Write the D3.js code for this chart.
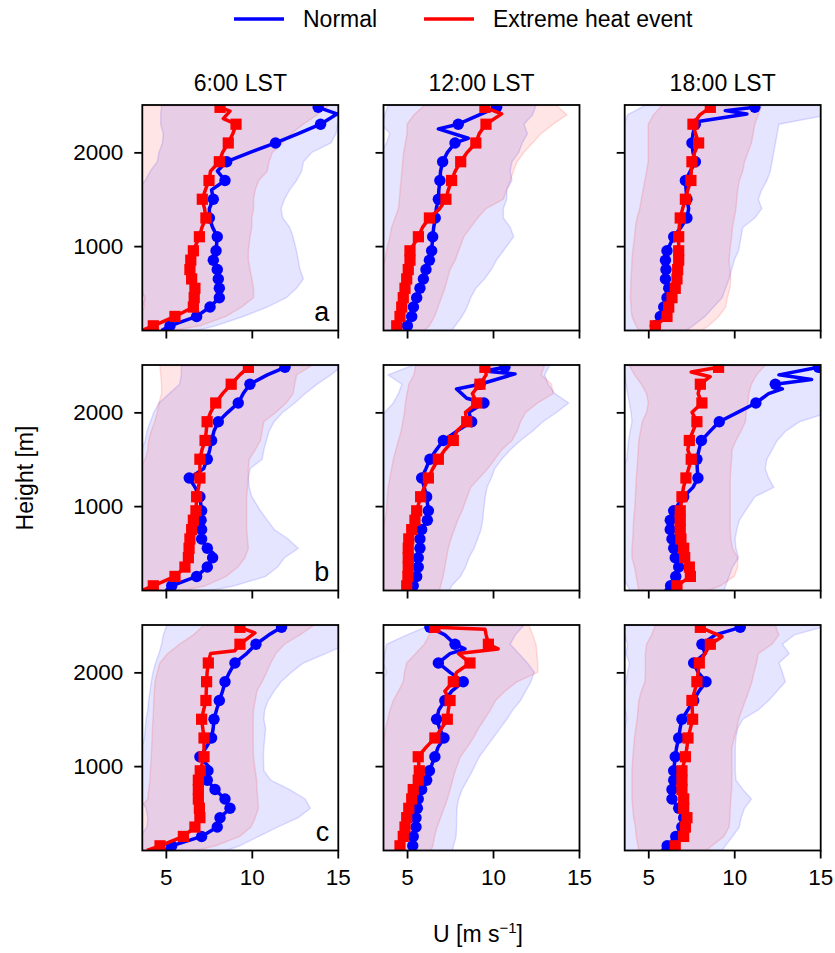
<!DOCTYPE html>
<html><head><meta charset="utf-8">
<script src="https://cdn.jsdelivr.net/npm/d3@7"></script>
<style>
body{margin:0;background:#fff}
svg{display:block}
text{font-family:"Liberation Sans",Arial,Helvetica,sans-serif;fill:#000}
</style>
</head><body>
<svg id="chart" width="835" height="953"></svg>
<script>
// ---------------- DATA ----------------
const COLUMN_TITLES = ["6:00 LST", "12:00 LST", "18:00 LST"];
const ROW_LETTERS = ["a", "b", "c"];
const SERIES_NAMES = ["Normal", "Extreme heat event"];
const X_TICKS = [5, 10, 15];
const Y_TICKS = [1000, 2000];
// heights (m) of the percentile-band profiles
const HEIGHTS = [100,150,250,350,450,550,650,750,850,950,1100,1200,1300,1400,1500,1600,1700,1800,1900,2000,2100,2200,2300,2400,2500];
// heights at which markers are drawn on the mean profiles
const MARK_H = [150,250,350,450,550,650,750,850,950,1100,1300,1500,1700,1900,2100,2300,2480];

// ---- 6:00 LST, row a ----
const normMean_06a = [[100,4.75],[150,5.24],[250,6.79],[350,7.57],[450,8.11],[550,8.11],[650,8.05],[750,7.99],[850,7.76],[950,7.92],[1100,7.99],[1200,7.72],[1300,7.53],[1400,7.53],[1500,7.76],[1600,7.66],[1700,8.44],[1800,8.0],[1900,8.54],[2000,9.9],[2100,11.38],[2200,12.7],[2300,14.0],[2410,14.95],[2480,13.86]];
const hotMean_06a = [[100,3.6],[150,4.27],[250,5.53],[350,6.6],[450,6.65],[550,6.69],[650,6.5],[750,6.4],[850,6.45],[950,6.6],[1100,6.95],[1200,7.1],[1300,7.33],[1400,7.25],[1500,7.12],[1600,7.3],[1700,7.51],[1800,7.6],[1900,8.11],[2000,8.3],[2100,8.63],[2200,8.9],[2300,9.08],[2360,8.34],[2440,8.73],[2480,8.15]];
const normLo_06a = [3.3,3.3,3.3,3.6,3.8,3.5,3.3,3.3,3.3,3.3,3.3,3.3,3.3,3.3,3.3,3.4,3.8,4.1,4.5,4.6,4.8,4.85,4.7,4.7,4.75];
const normHi_06a = [6.8,7.9,9.5,10.9,12.0,12.6,13.0,12.8,12.7,12.6,12.4,12.2,11.8,11.7,11.9,12.2,12.6,12.9,13.0,13.5,14.6,14.9,15.0,15.2,15.5];
const hotLo_06a = [3.4,3.4,3.4,3.75,3.75,3.4,3.4,3.4,3.4,3.4,3.4,3.4,3.4,3.4,3.4,3.4,3.4,3.4,3.4,3.4,3.4,3.4,3.4,3.4,3.4];
const hotHi_06a = [5.4,7.0,8.5,9.4,10.1,10.1,10.0,9.9,9.8,9.8,9.9,10.0,10.0,10.1,10.1,10.2,10.4,10.9,11.0,11.2,11.8,12.3,13.0,13.8,14.5];

// ---- 12:00 LST, row a ----
const normMean_12a = [[100,4.95],[150,5.02],[250,5.27],[350,5.37],[450,5.56],[550,5.75],[650,5.95],[750,6.1],[850,6.3],[950,6.43],[1100,6.49],[1200,6.55],[1300,6.64],[1400,6.7],[1500,6.82],[1600,6.85],[1700,6.91],[1800,6.95],[1900,7.07],[2000,7.35],[2100,7.79],[2150,8.56],[2250,6.82],[2300,7.98],[2400,9.2],[2480,10.21]];
const hotMean_12a = [[100,4.3],[150,4.4],[250,4.59],[350,4.69],[450,4.78],[550,4.88],[650,4.98],[750,5.07],[850,5.17],[950,5.17],[1100,5.66],[1200,5.9],[1300,6.3],[1400,6.9],[1500,7.26],[1600,7.4],[1700,7.59],[1800,7.8],[1900,8.12],[2000,8.5],[2100,9.0],[2200,9.2],[2300,9.59],[2410,10.5],[2480,9.53]];
const normLo_12a = [3.3,3.3,3.3,3.3,3.3,3.3,3.3,3.3,3.3,3.3,3.3,3.3,3.3,3.3,3.3,3.3,3.3,3.3,3.4,3.5,3.8,4.0,3.5,3.7,3.9];
const normHi_12a = [7.6,7.8,8.2,8.5,8.7,9.0,9.5,9.9,10.2,10.6,11.2,11.0,10.6,10.6,10.8,10.8,11.1,11.0,11.1,11.5,11.7,12.0,11.8,12.3,12.5];
const hotLo_12a = [3.5,3.5,3.5,3.5,3.5,3.5,3.5,3.5,3.7,3.8,4.0,4.1,4.3,4.5,4.55,4.6,4.65,4.7,4.75,4.8,4.9,5.0,5.0,5.4,6.0];
const hotHi_12a = [6.0,6.3,6.6,6.8,7.0,7.2,7.35,7.5,7.8,8.0,8.3,8.7,9.1,9.6,10.6,10.8,11.0,11.2,11.4,11.8,12.3,12.8,13.5,14.3,13.7];

// ---- 18:00 LST, row a ----
const normMean_18a = [[100,5.3],[150,5.41],[250,5.7],[350,5.9],[450,6.09],[550,6.19],[650,6.0],[750,6.03],[850,6.0],[950,6.09],[1100,6.48],[1200,6.9],[1300,7.25],[1400,7.35],[1500,7.25],[1600,7.2],[1700,7.16],[1800,7.45],[1900,7.74],[2000,7.6],[2100,7.54],[2200,7.6],[2300,7.74],[2330,7.9],[2410,10.74],[2445,9.48],[2480,11.2]];
const hotMean_18a = [[100,5.2],[150,5.41],[250,6.09],[350,6.19],[450,6.38],[550,6.57],[650,6.67],[750,6.71],[850,6.77],[950,6.77],[1100,6.77],[1200,6.8],[1300,6.86],[1400,7.0],[1500,7.16],[1600,7.3],[1700,7.48],[1800,7.5],[1900,7.54],[2000,7.7],[2100,7.93],[2200,7.75],[2300,7.6],[2400,8.0],[2480,8.61]];
const normLo_18a = [3.5,3.5,3.5,3.5,3.5,3.5,3.5,3.5,3.5,3.5,3.5,3.5,3.5,3.5,3.5,3.5,3.5,3.5,3.5,3.5,3.5,3.5,3.6,3.8,4.8];
const normHi_18a = [7.2,7.6,8.3,8.8,9.3,9.5,9.7,9.85,10.0,10.25,10.4,10.5,11.2,11.6,11.4,11.6,11.9,12.1,12.2,12.3,12.4,12.5,12.6,15.5,15.5];
const hotLo_18a = [4.45,4.3,4.05,4.0,3.96,3.98,4.0,4.03,4.05,4.1,4.2,4.25,4.35,4.5,4.6,4.7,4.8,4.9,5.0,5.0,5.0,5.0,5.0,5.3,5.8];
const hotHi_18a = [8.1,8.5,9.1,9.5,9.6,9.75,9.8,9.75,9.7,9.75,9.85,9.9,10.0,10.1,10.15,10.2,10.3,10.5,10.6,10.8,11.0,11.1,11.2,11.4,11.6];

// ---- 6:00 LST, row b ----
const normMean_06b = [[100,5.0],[150,5.34],[250,6.79],[350,7.41],[450,7.72],[500,7.75],[550,7.41],[650,7.08],[750,7.08],[850,7.05],[950,7.08],[1100,6.98],[1200,6.7],[1300,6.36],[1350,6.8],[1400,7.2],[1500,7.41],[1600,7.55],[1700,7.66],[1800,7.8],[1900,8.05],[2000,8.6],[2100,9.21],[2200,9.5],[2300,9.89],[2400,10.9],[2480,11.93],[2510,12.2]];
const hotMean_06b = [[100,3.6],[150,4.27],[250,5.53],[350,6.11],[450,6.31],[550,6.35],[650,6.4],[750,6.5],[850,6.6],[950,6.75],[1100,6.79],[1200,6.9],[1300,6.98],[1400,6.98],[1500,6.98],[1600,7.1],[1700,7.28],[1800,7.35],[1900,7.4],[2000,7.6],[2100,7.9],[2200,8.3],[2300,8.8],[2400,9.3],[2480,9.8]];
const normLo_06b = [3.4,3.4,3.4,3.4,3.4,3.4,3.4,3.4,3.4,3.4,3.4,3.4,3.4,3.4,3.4,3.6,3.8,3.9,4.1,4.3,4.6,5.2,5.8,5.9,5.9];
const normHi_06b = [7.6,9.0,10.8,11.5,11.9,12.7,12.1,11.3,10.9,10.5,10.0,9.85,9.8,9.9,10.6,10.7,10.85,11.0,11.3,11.8,12.5,13.1,13.8,14.6,15.3];
const hotLo_06b = [3.45,3.45,3.45,3.45,3.45,3.45,3.45,3.45,3.45,3.45,3.45,3.45,3.45,3.45,3.8,3.95,4.0,4.15,4.35,4.5,4.6,4.75,4.75,4.7,4.65];
const hotHi_06b = [6.0,7.3,8.5,9.2,9.6,9.8,9.75,9.7,9.7,9.7,9.7,9.75,9.8,9.8,9.85,10.2,10.5,10.6,10.7,11.4,12.0,12.4,12.5,12.6,13.5];

// ---- 12:00 LST, row b ----
const normMean_12b = [[100,5.3],[150,5.36],[250,5.56],[350,5.65],[450,5.65],[550,5.75],[650,5.75],[750,5.85],[850,6.18],[950,6.24],[1100,6.14],[1200,6.0],[1300,5.85],[1400,6.1],[1500,6.33],[1600,6.7],[1700,7.11],[1800,7.9],[1900,8.76],[2000,8.6],[2100,9.47],[2150,8.47],[2250,7.88],[2300,9.24],[2410,11.28],[2440,9.5],[2480,10.69]];
const hotMean_12b = [[100,4.9],[150,4.98],[250,5.05],[350,5.07],[450,5.07],[550,5.07],[650,5.1],[750,5.27],[850,5.46],[950,5.56],[1100,5.79],[1200,6.0],[1300,6.24],[1400,6.5],[1500,6.82],[1600,7.2],[1700,7.69],[1800,7.9],[1900,8.47],[2000,8.4],[2100,9.05],[2200,8.8],[2300,9.24],[2400,9.6],[2480,9.53]];
const normLo_12b = [3.4,3.4,3.4,3.4,3.4,3.4,3.4,3.4,3.4,3.4,3.4,3.4,3.4,3.4,3.4,3.4,3.4,3.4,3.4,3.7,4.2,4.5,4.7,3.9,5.3];
const normHi_12b = [7.45,7.6,8.1,8.4,8.6,8.9,9.1,9.3,9.4,9.45,9.55,9.65,9.9,10.1,10.5,11.0,11.6,12.3,12.9,13.7,14.4,13.6,13.2,13.0,13.3];
const hotLo_12b = [3.45,3.45,3.45,3.45,3.45,3.45,3.45,3.6,3.7,3.8,3.85,3.9,4.0,4.1,4.2,4.35,4.5,4.65,4.75,4.85,4.9,5.0,5.1,5.4,5.5];
const hotHi_12b = [6.9,6.95,7.1,7.2,7.3,7.4,7.55,7.75,7.95,8.2,8.5,8.7,9.2,9.7,10.1,10.5,11.1,11.4,11.6,11.9,12.6,13.5,13.4,12.8,13.0];

// ---- 18:00 LST, row b ----
const normMean_18b = [[100,6.0],[150,6.3],[250,6.6],[350,6.77],[450,6.57],[550,6.48],[650,6.38],[750,6.28],[850,6.28],[950,6.48],[1100,7.06],[1200,7.6],[1300,7.89],[1400,7.85],[1500,7.83],[1600,7.95],[1700,8.09],[1800,8.6],[1900,9.13],[2000,10.2],[2100,11.26],[2200,12.0],[2250,12.8],[2280,12.3],[2300,12.39],[2350,14.5],[2400,12.6],[2480,14.9]];
const hotMean_18b = [[100,6.5],[150,6.67],[250,7.45],[350,7.39],[450,7.12],[550,7.06],[650,6.9],[750,6.86],[850,6.86],[950,6.86],[1100,6.96],[1200,7.05],[1300,7.19],[1400,7.35],[1500,7.5],[1600,7.3],[1700,7.39],[1800,7.6],[1900,7.83],[2000,7.55],[2100,8.12],[2200,7.9],[2300,8.03],[2380,8.6],[2430,7.5],[2480,9.09]];
const normLo_18b = [3.95,3.8,3.5,3.5,3.5,3.5,3.5,3.5,3.5,3.5,3.5,3.5,3.5,3.5,3.75,3.8,3.85,3.95,4.05,4.0,3.9,3.8,3.7,3.6,3.6];
const normHi_18b = [9.4,9.5,9.7,9.9,10.25,10.1,10.05,10.15,10.3,10.65,11.2,12.3,12.0,11.8,11.9,12.2,12.5,13.0,13.8,15.5,15.5,15.5,15.5,15.5,15.5];
const hotLo_18b = [4.45,4.4,4.3,4.2,4.05,4.05,4.1,4.12,4.15,4.2,4.25,4.28,4.3,4.35,4.38,4.42,4.45,4.55,4.65,4.9,5.0,4.9,4.6,4.2,3.9];
const hotHi_18b = [8.5,9.2,10.0,10.2,10.2,9.9,9.8,9.77,9.77,9.77,9.77,9.77,9.77,9.8,9.85,9.87,10.1,10.4,10.65,10.7,10.8,10.85,11.0,11.3,11.8];

// ---- 6:00 LST, row c ----
const normMean_06c = [[100,4.9],[150,5.34],[250,7.08],[350,7.99],[450,8.15],[550,8.73],[650,8.44],[750,7.86],[850,7.41],[950,7.45],[1000,7.47],[1100,6.98],[1200,7.35],[1300,7.66],[1400,7.75],[1500,7.8],[1600,7.95],[1700,8.11],[1800,8.3],[1900,8.44],[2000,8.7],[2100,9.02],[2200,9.7],[2300,10.24],[2400,11.0],[2480,11.73]];
const hotMean_06c = [[100,3.9],[150,4.66],[250,6.02],[350,6.69],[450,6.98],[550,6.95],[650,6.89],[750,6.89],[850,6.89],[950,7.0],[1100,7.22],[1200,7.22],[1300,7.22],[1400,7.15],[1500,7.08],[1600,7.2],[1700,7.33],[1800,7.35],[1900,7.37],[2000,7.4],[2100,7.47],[2200,7.6],[2230,9.0],[2300,9.31],[2420,10.18],[2480,9.31]];
const normLo_06c = [3.4,3.4,3.5,3.9,3.95,3.85,3.5,3.4,3.4,3.4,3.45,3.6,3.75,3.8,3.85,3.95,4.0,4.08,4.15,4.25,4.4,4.6,4.75,4.85,5.05];
const normHi_06c = [8.5,9.3,10.4,11.5,12.7,13.4,13.1,12.2,11.1,10.7,10.67,10.7,10.75,10.8,10.7,10.75,10.95,11.3,11.7,12.3,13.0,14.3,15.5,15.5,15.5];
const hotLo_06c = [3.45,3.45,3.45,3.45,3.45,3.45,3.95,4.0,4.08,4.1,4.15,4.17,4.2,4.22,4.25,4.28,4.3,4.33,4.37,4.5,4.65,5.1,5.8,6.6,7.2];
const hotHi_06c = [6.8,7.9,9.3,9.95,10.2,10.38,10.35,10.3,10.28,10.2,10.1,10.08,10.08,10.08,10.08,10.1,10.2,10.3,10.6,10.86,11.1,11.4,11.9,12.8,13.6];

// ---- 12:00 LST, row c ----
const normMean_12c = [[100,5.3],[150,5.33],[250,5.36],[350,5.52],[450,5.52],[550,5.6],[650,5.65],[750,5.85],[850,6.14],[950,6.3],[1100,6.62],[1200,6.8],[1300,7.15],[1400,6.9],[1500,6.72],[1600,6.85],[1700,7.2],[1800,7.6],[1900,8.27],[2000,7.5],[2100,6.82],[2200,7.5],[2250,8.37],[2300,7.79],[2400,7.2],[2480,6.33]];
const hotMean_12c = [[100,4.5],[150,4.59],[250,4.78],[350,4.88],[450,4.98],[550,5.1],[650,5.27],[750,5.36],[850,5.65],[950,5.71],[1100,5.65],[1200,6.1],[1300,6.62],[1400,7.0],[1500,7.34],[1600,7.4],[1700,7.5],[1800,7.2],[1900,7.69],[2000,7.88],[2100,8.66],[2200,8.0],[2250,10.3],[2300,9.73],[2400,9.6],[2460,9.53],[2480,6.62]];
const normLo_12c = [3.45,3.45,3.45,3.45,3.45,3.45,3.45,3.45,3.45,3.45,3.45,3.45,3.45,3.45,3.45,3.45,3.45,3.45,3.45,3.8,3.6,3.7,3.8,5.0,6.3];
const normHi_12c = [7.65,7.7,7.85,7.88,7.88,7.9,8.0,8.2,8.5,8.8,9.2,9.6,10.0,10.4,10.8,11.15,11.6,11.9,12.2,12.4,12.0,11.5,11.0,11.3,11.8];
const hotLo_12c = [3.45,3.45,3.45,3.45,3.45,3.45,3.45,3.45,3.45,3.45,3.45,3.45,3.65,3.75,3.88,4.0,4.2,4.5,4.78,4.85,4.98,5.5,6.0,6.3,6.4];
const hotHi_12c = [6.4,6.5,6.6,6.75,6.95,7.15,7.35,7.5,7.65,7.8,8.1,8.5,8.85,9.15,9.5,9.85,10.15,10.7,11.4,12.6,12.6,12.55,12.5,12.3,12.1];

// ---- 18:00 LST, row c ----
const normMean_18c = [[100,5.8],[150,6.1],[250,6.6],[350,6.95],[450,7.06],[550,6.77],[650,6.38],[750,6.38],[850,6.48],[950,6.48],[1100,6.57],[1200,6.65],[1300,6.77],[1400,6.85],[1500,6.96],[1600,7.3],[1700,7.64],[1800,7.95],[1900,8.36],[2000,7.9],[2100,7.64],[2200,8.3],[2300,8.12],[2400,8.9],[2480,10.35]];
const hotMean_18c = [[100,6.3],[150,6.57],[250,7.06],[350,7.16],[450,7.25],[550,7.06],[650,7.06],[750,6.96],[850,6.96],[950,6.96],[1100,7.16],[1200,7.25],[1300,7.31],[1400,7.45],[1500,7.58],[1600,7.56],[1700,7.54],[1800,7.7],[1900,7.83],[2000,7.9],[2100,7.97],[2200,8.3],[2300,8.61],[2380,9.29],[2480,8.03]];
const normLo_18c = [3.5,3.5,3.5,3.5,3.5,3.5,3.5,3.5,3.5,3.5,3.5,3.5,3.5,3.6,3.75,3.65,3.6,3.6,3.7,3.8,3.9,3.7,3.8,3.6,3.5];
const normHi_18c = [9.3,9.48,9.9,10.3,10.4,10.6,11.0,10.5,10.1,10.06,10.06,10.06,10.1,10.2,10.5,11.4,12.0,12.5,12.97,12.8,12.6,13.2,12.8,13.5,15.5];
const hotLo_18c = [4.45,4.4,4.3,4.25,4.15,4.1,4.05,4.05,4.05,4.05,4.1,4.15,4.2,4.27,4.35,4.4,4.45,4.6,4.8,4.83,4.83,4.83,4.9,5.2,5.4];
const hotHi_18c = [8.4,8.7,9.4,9.7,9.75,9.77,9.8,9.85,9.87,9.87,9.87,9.87,10.0,10.15,10.26,10.45,10.65,10.85,11.03,11.15,11.3,11.4,12.2,12.6,12.4];

// panel table (row-major) built from the arrays above
const panels = [
  {nm: normMean_06a, hm: hotMean_06a, nl: normLo_06a, nh: normHi_06a, hl: hotLo_06a, hh: hotHi_06a},
  {nm: normMean_12a, hm: hotMean_12a, nl: normLo_12a, nh: normHi_12a, hl: hotLo_12a, hh: hotHi_12a},
  {nm: normMean_18a, hm: hotMean_18a, nl: normLo_18a, nh: normHi_18a, hl: hotLo_18a, hh: hotHi_18a},
  {nm: normMean_06b, hm: hotMean_06b, nl: normLo_06b, nh: normHi_06b, hl: hotLo_06b, hh: hotHi_06b},
  {nm: normMean_12b, hm: hotMean_12b, nl: normLo_12b, nh: normHi_12b, hl: hotLo_12b, hh: hotHi_12b},
  {nm: normMean_18b, hm: hotMean_18b, nl: normLo_18b, nh: normHi_18b, hl: hotLo_18b, hh: hotHi_18b},
  {nm: normMean_06c, hm: hotMean_06c, nl: normLo_06c, nh: normHi_06c, hl: hotLo_06c, hh: hotHi_06c},
  {nm: normMean_12c, hm: hotMean_12c, nl: normLo_12c, nh: normHi_12c, hl: hotLo_12c, hh: hotHi_12c},
  {nm: normMean_18c, hm: hotMean_18c, nl: normLo_18c, nh: normHi_18c, hl: hotLo_18c, hh: hotHi_18c}
];

// ---------------- DRAWING ----------------
const BLUE = "#0000ff", RED = "#ff0000";
const FS = 23, FS_TICK = 22.5;
const svg = d3.select("#chart");
const W = 196, H = 225.5;
const colX = [142.3, 383.5, 624.7];
const rowY = [105, 365, 625];

const x = d3.scaleLinear().domain([3.63, 15.03]).range([0, W]);
const y = d3.scaleLinear().domain([100, 2505]).range([H, 0]);

const defs = svg.append("defs");

panels.forEach((p, i) => {
  const r = Math.floor(i / 3), c = i % 3;
  const g = svg.append("g").attr("transform", `translate(${colX[c]},${rowY[r]})`);
  defs.append("clipPath").attr("id", "clip" + i)
    .append("rect").attr("width", W).attr("height", H);
  const inner = g.append("g").attr("clip-path", `url(#clip${i})`);

  const series = [
    {lo: p.nl, hi: p.nh, mean: p.nm, color: BLUE, marker: "circle"},
    {lo: p.hl, hi: p.hh, mean: p.hm, color: RED, marker: "square"}
  ];
  series.forEach(s => {
    const area = d3.area()
      .y((d, k) => y(HEIGHTS[k]))
      .x0((d, k) => x(s.lo[k]))
      .x1((d, k) => x(s.hi[k]));
    inner.append("path").datum(s.lo).attr("d", area)
      .attr("fill", s.color).attr("fill-opacity", 0.1)
      .attr("stroke", s.color).attr("stroke-opacity", 0.12).attr("stroke-width", 1.5);
  });
  series.forEach(s => {
    const line = d3.line().x(d => x(d[1])).y(d => y(d[0]));
    inner.append("path").datum(s.mean).attr("d", line)
      .attr("fill", "none").attr("stroke", s.color).attr("stroke-width", 3.5)
      .attr("stroke-linejoin", "round");
    const pts = s.mean.filter(d => MARK_H.includes(d[0]));
    if (s.marker === "circle") {
      inner.selectAll(null).data(pts).join("circle")
        .attr("cx", d => x(d[1])).attr("cy", d => y(d[0])).attr("r", 5.7)
        .attr("fill", s.color);
    } else {
      inner.selectAll(null).data(pts).join("rect")
        .attr("x", d => x(d[1]) - 5.6).attr("y", d => y(d[0]) - 5.6)
        .attr("width", 11.2).attr("height", 11.2).attr("fill", s.color);
    }
  });

  // axes
  const xa = g.append("g").attr("transform", `translate(0,${H})`)
    .call(d3.axisBottom(x).tickValues(X_TICKS).tickSize(8).tickPadding(11)
      .tickFormat(r === 2 ? d3.format("d") : () => ""));
  const ya = g.append("g")
    .call(d3.axisLeft(y).tickValues(Y_TICKS).tickSize(8).tickPadding(11)
      .tickFormat(c === 0 ? d3.format("d") : () => ""));
  [xa, ya].forEach(a => {
    a.select(".domain").remove();
    a.selectAll(".tick line").attr("stroke", "#000").attr("stroke-width", 1.8);
    a.selectAll(".tick text").attr("font-size", FS_TICK)
      .style("font-family", '"Liberation Sans", Arial, sans-serif');
  });

  g.append("rect").attr("width", W).attr("height", H)
    .attr("fill", "none").attr("stroke", "#000").attr("stroke-width", 1.8);

  if (c === 0) {
    g.append("text").attr("x", W - 9).attr("y", H - 10)
      .attr("text-anchor", "end").attr("font-size", 27).text(ROW_LETTERS[r]);
  }
  if (r === 0) {
    g.append("text").attr("x", W / 2).attr("y", -14)
      .attr("text-anchor", "middle").attr("font-size", FS).text(COLUMN_TITLES[c]);
  }
});

// legend
const legend = svg.append("g");
[[234, SERIES_NAMES[0], BLUE], [424, SERIES_NAMES[1], RED]].forEach(([lx, name, col]) => {
  legend.append("line").attr("x1", lx).attr("x2", lx + 50).attr("y1", 19).attr("y2", 19)
    .attr("stroke", col).attr("stroke-width", 3.5);
  legend.append("text").attr("x", lx + 69).attr("y", 27).attr("font-size", FS).text(name);
});

// axis labels
svg.append("text").attr("transform", "translate(32.5,478) rotate(-90)")
  .attr("text-anchor", "middle").attr("font-size", FS).text("Height [m]");
const xl = svg.append("text").attr("x", 478).attr("y", 942)
  .attr("text-anchor", "middle").attr("font-size", FS);
xl.append("tspan").text("U [m s");
xl.append("tspan").attr("dy", -9).attr("font-size", 15).text("\u22121");
xl.append("tspan").attr("dy", 9).text("]");
</script>
</body></html>
